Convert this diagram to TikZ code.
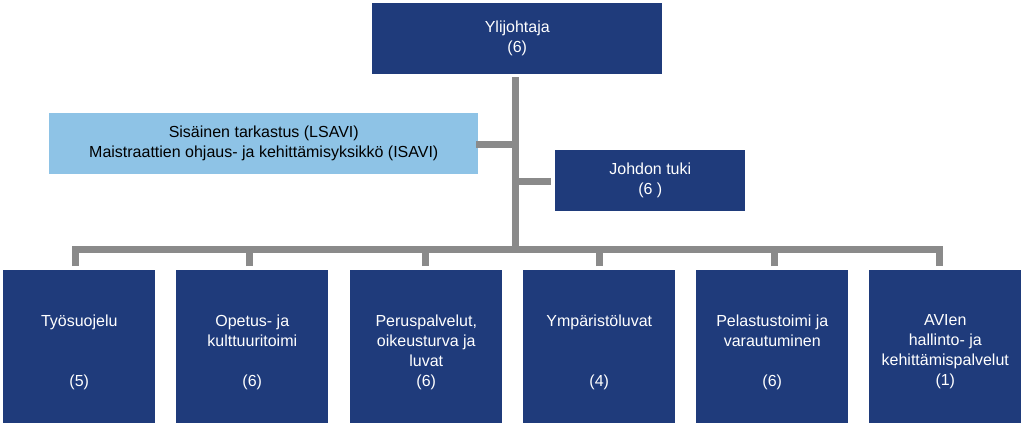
\documentclass[tikz,border=0pt]{standalone}
\usepackage{fontspec}
\setmainfont{Liberation Sans}
\definecolor{dblue}{HTML}{1F3B7B}
\definecolor{lblue}{HTML}{8EC3E6}
\definecolor{cgrey}{HTML}{8A8A8A}
\begin{document}
\begin{tikzpicture}[x=0.75pt,y=-0.75pt,
  box/.style={fill=dblue,draw=none,inner sep=0pt,anchor=north west},
  lbox/.style={fill=lblue,draw=none,inner sep=0pt,anchor=north west},
  wtxt/.style={text=white,align=center,font=\fontsize{12}{15}\selectfont,inner sep=0pt},
  ktxt/.style={text=black,align=center,font=\fontsize{12}{15}\selectfont,inner sep=0pt},
  conn/.style={draw=cgrey,line width=5.25pt,line cap=butt,line join=miter}]
\useasboundingbox (0,0) rectangle (1024,426);
\fill[white] (0,0) rectangle (1024,426);
% boxes
\node[box,minimum width=217.5pt,minimum height=53.25pt] (top) at (372,3) {};
\node[wtxt] (toptxt) at (top.center) {Ylijohtaja\\(6)};
\node[lbox,minimum width=321.75pt,minimum height=45.75pt] (lsavi) at (49,113) {};
\node[ktxt] (lsavitxt) at (lsavi.center) {Sisäinen tarkastus (LSAVI)\\Maistraattien ohjaus- ja kehittämisyksikkö (ISAVI)};
\node[box,minimum width=142.5pt,minimum height=45.75pt] (tuki) at (555,150) {};
\node[wtxt] (tukitxt) at (tuki.center) {Johdon tuki\\(6 )};
\foreach \i/\x in {1/3,2/176,3/350,4/523,5/696,6/869}{
  \node[box,minimum width=114pt,minimum height=114.75pt] (b\i) at (\x,270) {};
}
\node[wtxt] (t1) at ([yshift=-4pt]b1.center) {Työsuojelu\\[30pt](5)};
\node[wtxt] (t2) at ([yshift=-4pt]b2.center) {Opetus- ja\\kulttuuritoimi\\[15pt](6)};
\node[wtxt] (t3) at ([yshift=-4pt]b3.center) {Peruspalvelut,\\oikeusturva ja\\luvat\\(6)};
\node[wtxt] (t4) at ([yshift=-4pt]b4.center) {Ympäristöluvat\\[30pt](4)};
\node[wtxt] (t5) at ([yshift=-4pt]b5.center) {Pelastustoimi ja\\varautuminen\\[15pt](6)};
\node[wtxt] (t6) at ([yshift=-4pt]b6.center) {AVIen\\hallinto- ja\\kehittämispalvelut\\(1)};
% connector coordinates
\coordinate (trunkTop) at (515.5,77);
\coordinate (jL) at (515.5,144.5);
\coordinate (jR) at (515.5,181);
\coordinate (barM) at (515.5,249.5);
\coordinate (d1) at (75.5,266);
\coordinate (d2) at (249.5,266);
\coordinate (d3) at (425,266);
\coordinate (d4) at (599.5,266);
\coordinate (d5) at (774.5,266);
\coordinate (d6) at (939.5,266);
% connectors
\draw[conn] (trunkTop) -- (barM);
\draw[conn] (jL) -- ([xshift=-2.25pt]lsavi.east |- jL);
\draw[conn] (jR) -- ([xshift=-3pt]tuki.west |- jR);
\draw[conn] (d1) -- (d1 |- barM) -- (d6 |- barM) -- (d6);
\foreach \i in {2,3,4,5}{
  \draw[conn] (d\i) -- (d\i |- barM);
}
\end{tikzpicture}
\end{document}
